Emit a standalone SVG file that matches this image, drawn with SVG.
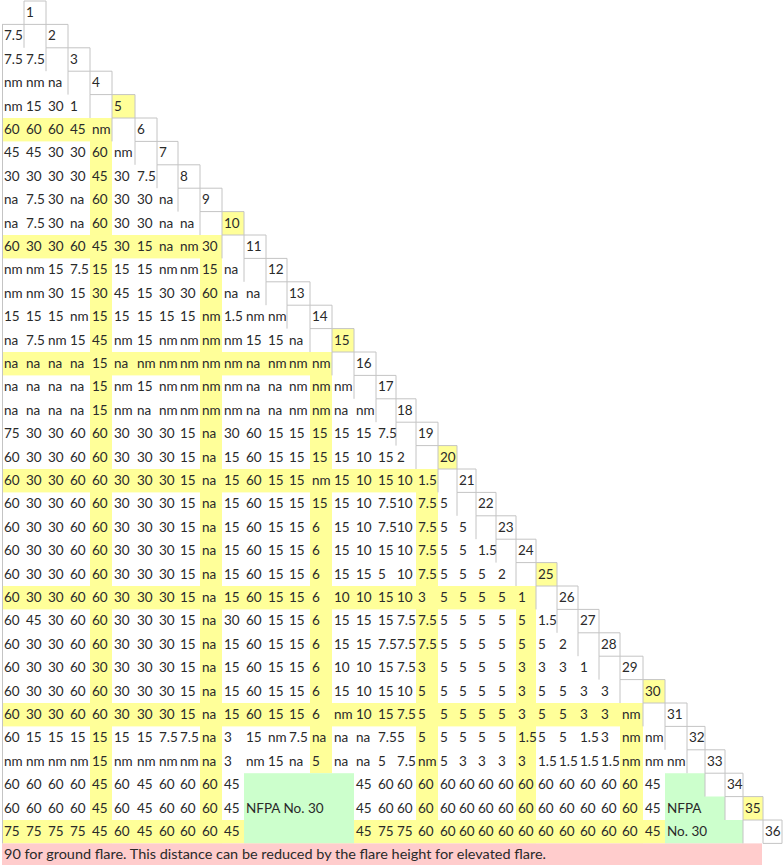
<svg xmlns="http://www.w3.org/2000/svg" width="783" height="865" viewBox="0 0 783 865">
<style>
.t{font-family:Lato,"Liberation Sans",sans-serif;font-size:13.5px;fill:#2a2a2a}
.y{fill:#ffff99}
.g{fill:#ccffcc}
.p{fill:#ffcccc}
.grid{fill:none;stroke:#c4c4c4;stroke-width:1}
</style>
<rect width="783" height="865" fill="#ffffff"/>
<g id="highlights">
<rect class="y" x="2" y="118" width="110" height="23.4"/>
<rect class="y" x="2" y="235" width="220" height="23.4"/>
<rect class="y" x="2" y="352" width="330" height="23.4"/>
<rect class="y" x="2" y="469" width="436" height="23.4"/>
<rect class="y" x="2" y="586" width="534" height="23.4"/>
<rect class="y" x="2" y="703" width="641" height="23.4"/>
<rect class="y" x="2" y="820" width="663" height="23.4"/>
<rect class="y" x="90" y="118" width="22" height="725.4"/>
<rect class="y" x="200" y="235" width="22" height="608.4"/>
<rect class="y" x="310" y="352" width="22" height="421.2"/>
<rect class="y" x="416" y="469" width="22" height="374.4"/>
<rect class="y" x="516" y="586" width="20" height="257.4"/>
<rect class="y" x="620" y="703" width="23" height="140.4"/>
<rect class="y" x="112" y="94.6" width="23" height="23.4"/>
<rect class="y" x="222" y="211.6" width="22" height="23.4"/>
<rect class="y" x="332" y="328.6" width="22" height="23.4"/>
<rect class="y" x="438" y="445.6" width="19" height="23.4"/>
<rect class="y" x="536" y="562.6" width="21" height="23.4"/>
<rect class="y" x="643" y="679.6" width="22" height="23.4"/>
<rect class="y" x="743" y="796.6" width="20" height="23.4"/>
<rect class="g" x="244" y="773.2" width="110" height="70.2"/>
<path class="g" d="M665 773.2H705V796.6H725V820H743V843.4H665Z"/>
<rect class="p" x="2" y="843.4" width="760" height="21.6"/>
</g>
<g id="grid">
<path class="grid" d="M2.5 24.4V843.4M2 24.4H24
M24 1H46V24.4H24ZM24 24.4V47.8
M46 24.4H68V47.8H46ZM46 47.8V71.2
M68 47.8H90V71.2H68ZM68 71.2V94.6
M90 71.2H112V94.6H90ZM90 94.6V118
M112 94.6H135V118H112ZM112 118V141.4
M135 118H157V141.4H135ZM135 141.4V164.8
M157 141.4H178V164.8H157ZM157 164.8V188.2
M178 164.8H200V188.2H178ZM178 188.2V211.6
M200 188.2H222V211.6H200ZM200 211.6V235
M222 211.6H244V235H222ZM222 235V258.4
M244 235H266V258.4H244ZM244 258.4V281.8
M266 258.4H287V281.8H266ZM266 281.8V305.2
M287 281.8H310V305.2H287ZM287 305.2V328.6
M310 305.2H332V328.6H310ZM310 328.6V352
M332 328.6H354V352H332ZM332 352V375.4
M354 352H376V375.4H354ZM354 375.4V398.8
M376 375.4H396V398.8H376ZM376 398.8V422.2
M396 398.8H416V422.2H396ZM396 422.2V445.6
M416 422.2H438V445.6H416ZM416 445.6V469
M438 445.6H457V469H438ZM438 469V492.4
M457 469H476V492.4H457ZM457 492.4V515.8
M476 492.4H496V515.8H476ZM476 515.8V539.2
M496 515.8H516V539.2H496ZM496 539.2V562.6
M516 539.2H536V562.6H516ZM516 562.6V586
M536 562.6H557V586H536ZM536 586V609.4
M557 586H578V609.4H557ZM557 609.4V632.8
M578 609.4H599V632.8H578ZM578 632.8V656.2
M599 632.8H620V656.2H599ZM599 656.2V679.6
M620 656.2H643V679.6H620ZM620 679.6V703
M643 679.6H665V703H643ZM643 703V726.4
M665 703H687V726.4H665ZM665 726.4V749.8
M687 726.4H705V749.8H687ZM687 749.8V773.2
M705 749.8H725V773.2H705ZM705 773.2V796.6
M725 773.2H743V796.6H725ZM725 796.6V820
M743 796.6H763V820H743ZM743 820V843.4
M763 820H782V843.4H763Z"/>
</g>
<g id="row-1"><text class="t" y="17"><tspan x="26">1</tspan></text></g>
<g id="row-2"><text class="t" y="40.4"><tspan x="4">7.5</tspan><tspan x="48">2</tspan></text></g>
<g id="row-3"><text class="t" y="63.8"><tspan x="4">7.5</tspan><tspan x="26">7.5</tspan><tspan x="70">3</tspan></text></g>
<g id="row-4"><text class="t" y="87.2"><tspan x="4">nm</tspan><tspan x="26">nm</tspan><tspan x="48">na</tspan><tspan x="92">4</tspan></text></g>
<g id="row-5"><text class="t" y="110.6"><tspan x="4">nm</tspan><tspan x="26">15</tspan><tspan x="48">30</tspan><tspan x="70">1</tspan><tspan x="114">5</tspan></text></g>
<g id="row-6"><text class="t" y="134"><tspan x="4">60</tspan><tspan x="26">60</tspan><tspan x="48">60</tspan><tspan x="70">45</tspan><tspan x="92">nm</tspan><tspan x="137">6</tspan></text></g>
<g id="row-7"><text class="t" y="157.4"><tspan x="4">45</tspan><tspan x="26">45</tspan><tspan x="48">30</tspan><tspan x="70">30</tspan><tspan x="92">60</tspan><tspan x="114">nm</tspan><tspan x="159">7</tspan></text></g>
<g id="row-8"><text class="t" y="180.8"><tspan x="4">30</tspan><tspan x="26">30</tspan><tspan x="48">30</tspan><tspan x="70">30</tspan><tspan x="92">45</tspan><tspan x="114">30</tspan><tspan x="137">7.5</tspan><tspan x="180">8</tspan></text></g>
<g id="row-9"><text class="t" y="204.2"><tspan x="4">na</tspan><tspan x="26">7.5</tspan><tspan x="48">30</tspan><tspan x="70">na</tspan><tspan x="92">60</tspan><tspan x="114">30</tspan><tspan x="137">30</tspan><tspan x="159">na</tspan><tspan x="202">9</tspan></text></g>
<g id="row-10"><text class="t" y="227.6"><tspan x="4">na</tspan><tspan x="26">7.5</tspan><tspan x="48">30</tspan><tspan x="70">na</tspan><tspan x="92">60</tspan><tspan x="114">30</tspan><tspan x="137">30</tspan><tspan x="159">na</tspan><tspan x="180">na</tspan><tspan x="224">10</tspan></text></g>
<g id="row-11"><text class="t" y="251"><tspan x="4">60</tspan><tspan x="26">30</tspan><tspan x="48">30</tspan><tspan x="70">60</tspan><tspan x="92">45</tspan><tspan x="114">30</tspan><tspan x="137">15</tspan><tspan x="159">na</tspan><tspan x="180">nm</tspan><tspan x="202">30</tspan><tspan x="246">11</tspan></text></g>
<g id="row-12"><text class="t" y="274.4"><tspan x="4">nm</tspan><tspan x="26">nm</tspan><tspan x="48">15</tspan><tspan x="70">7.5</tspan><tspan x="92">15</tspan><tspan x="114">15</tspan><tspan x="137">15</tspan><tspan x="159">nm</tspan><tspan x="180">nm</tspan><tspan x="202">15</tspan><tspan x="224">na</tspan><tspan x="268">12</tspan></text></g>
<g id="row-13"><text class="t" y="297.8"><tspan x="4">nm</tspan><tspan x="26">nm</tspan><tspan x="48">30</tspan><tspan x="70">15</tspan><tspan x="92">30</tspan><tspan x="114">45</tspan><tspan x="137">15</tspan><tspan x="159">30</tspan><tspan x="180">30</tspan><tspan x="202">60</tspan><tspan x="224">na</tspan><tspan x="246">na</tspan><tspan x="289">13</tspan></text></g>
<g id="row-14"><text class="t" y="321.2"><tspan x="4">15</tspan><tspan x="26">15</tspan><tspan x="48">15</tspan><tspan x="70">nm</tspan><tspan x="92">15</tspan><tspan x="114">15</tspan><tspan x="137">15</tspan><tspan x="159">15</tspan><tspan x="180">15</tspan><tspan x="202">nm</tspan><tspan x="224">1.5</tspan><tspan x="246">nm</tspan><tspan x="268">nm</tspan><tspan x="312">14</tspan></text></g>
<g id="row-15"><text class="t" y="344.6"><tspan x="4">na</tspan><tspan x="26">7.5</tspan><tspan x="48">nm</tspan><tspan x="70">15</tspan><tspan x="92">45</tspan><tspan x="114">nm</tspan><tspan x="137">15</tspan><tspan x="159">nm</tspan><tspan x="180">nm</tspan><tspan x="202">nm</tspan><tspan x="224">nm</tspan><tspan x="246">15</tspan><tspan x="268">15</tspan><tspan x="289">na</tspan><tspan x="334">15</tspan></text></g>
<g id="row-16"><text class="t" y="368"><tspan x="4">na</tspan><tspan x="26">na</tspan><tspan x="48">na</tspan><tspan x="70">na</tspan><tspan x="92">15</tspan><tspan x="114">na</tspan><tspan x="137">nm</tspan><tspan x="159">nm</tspan><tspan x="180">nm</tspan><tspan x="202">nm</tspan><tspan x="224">nm</tspan><tspan x="246">na</tspan><tspan x="268">nm</tspan><tspan x="289">nm</tspan><tspan x="312">nm</tspan><tspan x="356">16</tspan></text></g>
<g id="row-17"><text class="t" y="391.4"><tspan x="4">na</tspan><tspan x="26">na</tspan><tspan x="48">na</tspan><tspan x="70">na</tspan><tspan x="92">15</tspan><tspan x="114">nm</tspan><tspan x="137">15</tspan><tspan x="159">nm</tspan><tspan x="180">nm</tspan><tspan x="202">nm</tspan><tspan x="224">nm</tspan><tspan x="246">na</tspan><tspan x="268">na</tspan><tspan x="289">nm</tspan><tspan x="312">nm</tspan><tspan x="334">nm</tspan><tspan x="378">17</tspan></text></g>
<g id="row-18"><text class="t" y="414.8"><tspan x="4">na</tspan><tspan x="26">na</tspan><tspan x="48">na</tspan><tspan x="70">na</tspan><tspan x="92">15</tspan><tspan x="114">nm</tspan><tspan x="137">na</tspan><tspan x="159">nm</tspan><tspan x="180">nm</tspan><tspan x="202">nm</tspan><tspan x="224">nm</tspan><tspan x="246">na</tspan><tspan x="268">na</tspan><tspan x="289">nm</tspan><tspan x="312">nm</tspan><tspan x="334">na</tspan><tspan x="356">nm</tspan><tspan x="397">18</tspan></text></g>
<g id="row-19"><text class="t" y="438.2"><tspan x="4">75</tspan><tspan x="26">30</tspan><tspan x="48">30</tspan><tspan x="70">60</tspan><tspan x="92">60</tspan><tspan x="114">30</tspan><tspan x="137">30</tspan><tspan x="159">30</tspan><tspan x="180">15</tspan><tspan x="202">na</tspan><tspan x="224">30</tspan><tspan x="246">60</tspan><tspan x="268">15</tspan><tspan x="289">15</tspan><tspan x="312">15</tspan><tspan x="334">15</tspan><tspan x="356">15</tspan><tspan x="378">7.5</tspan><tspan x="418">19</tspan></text></g>
<g id="row-20"><text class="t" y="461.6"><tspan x="4">60</tspan><tspan x="26">30</tspan><tspan x="48">30</tspan><tspan x="70">60</tspan><tspan x="92">60</tspan><tspan x="114">30</tspan><tspan x="137">30</tspan><tspan x="159">30</tspan><tspan x="180">15</tspan><tspan x="202">na</tspan><tspan x="224">15</tspan><tspan x="246">60</tspan><tspan x="268">15</tspan><tspan x="289">15</tspan><tspan x="312">15</tspan><tspan x="334">15</tspan><tspan x="356">10</tspan><tspan x="378">15</tspan><tspan x="397">2</tspan><tspan x="440">20</tspan></text></g>
<g id="row-21"><text class="t" y="485"><tspan x="4">60</tspan><tspan x="26">30</tspan><tspan x="48">30</tspan><tspan x="70">60</tspan><tspan x="92">60</tspan><tspan x="114">30</tspan><tspan x="137">30</tspan><tspan x="159">30</tspan><tspan x="180">15</tspan><tspan x="202">na</tspan><tspan x="224">15</tspan><tspan x="246">60</tspan><tspan x="268">15</tspan><tspan x="289">15</tspan><tspan x="312">nm</tspan><tspan x="334">15</tspan><tspan x="356">10</tspan><tspan x="378">15</tspan><tspan x="397">10</tspan><tspan x="418">1.5</tspan><tspan x="459">21</tspan></text></g>
<g id="row-22"><text class="t" y="508.4"><tspan x="4">60</tspan><tspan x="26">30</tspan><tspan x="48">30</tspan><tspan x="70">60</tspan><tspan x="92">60</tspan><tspan x="114">30</tspan><tspan x="137">30</tspan><tspan x="159">30</tspan><tspan x="180">15</tspan><tspan x="202">na</tspan><tspan x="224">15</tspan><tspan x="246">60</tspan><tspan x="268">15</tspan><tspan x="289">15</tspan><tspan x="312">15</tspan><tspan x="334">15</tspan><tspan x="356">10</tspan><tspan x="378">7.5</tspan><tspan x="397">10</tspan><tspan x="418">7.5</tspan><tspan x="440">5</tspan><tspan x="478">22</tspan></text></g>
<g id="row-23"><text class="t" y="531.8"><tspan x="4">60</tspan><tspan x="26">30</tspan><tspan x="48">30</tspan><tspan x="70">60</tspan><tspan x="92">60</tspan><tspan x="114">30</tspan><tspan x="137">30</tspan><tspan x="159">30</tspan><tspan x="180">15</tspan><tspan x="202">na</tspan><tspan x="224">15</tspan><tspan x="246">60</tspan><tspan x="268">15</tspan><tspan x="289">15</tspan><tspan x="312">6</tspan><tspan x="334">15</tspan><tspan x="356">10</tspan><tspan x="378">7.5</tspan><tspan x="397">10</tspan><tspan x="418">7.5</tspan><tspan x="440">5</tspan><tspan x="459">5</tspan><tspan x="498">23</tspan></text></g>
<g id="row-24"><text class="t" y="555.2"><tspan x="4">60</tspan><tspan x="26">30</tspan><tspan x="48">30</tspan><tspan x="70">60</tspan><tspan x="92">60</tspan><tspan x="114">30</tspan><tspan x="137">30</tspan><tspan x="159">30</tspan><tspan x="180">15</tspan><tspan x="202">na</tspan><tspan x="224">15</tspan><tspan x="246">60</tspan><tspan x="268">15</tspan><tspan x="289">15</tspan><tspan x="312">6</tspan><tspan x="334">15</tspan><tspan x="356">10</tspan><tspan x="378">15</tspan><tspan x="397">10</tspan><tspan x="418">7.5</tspan><tspan x="440">5</tspan><tspan x="459">5</tspan><tspan x="478">1.5</tspan><tspan x="518">24</tspan></text></g>
<g id="row-25"><text class="t" y="578.6"><tspan x="4">60</tspan><tspan x="26">30</tspan><tspan x="48">30</tspan><tspan x="70">60</tspan><tspan x="92">60</tspan><tspan x="114">30</tspan><tspan x="137">30</tspan><tspan x="159">30</tspan><tspan x="180">15</tspan><tspan x="202">na</tspan><tspan x="224">15</tspan><tspan x="246">60</tspan><tspan x="268">15</tspan><tspan x="289">15</tspan><tspan x="312">6</tspan><tspan x="334">15</tspan><tspan x="356">15</tspan><tspan x="378">5</tspan><tspan x="397">10</tspan><tspan x="418">7.5</tspan><tspan x="440">5</tspan><tspan x="459">5</tspan><tspan x="478">5</tspan><tspan x="498">2</tspan><tspan x="538">25</tspan></text></g>
<g id="row-26"><text class="t" y="602"><tspan x="4">60</tspan><tspan x="26">30</tspan><tspan x="48">30</tspan><tspan x="70">60</tspan><tspan x="92">60</tspan><tspan x="114">30</tspan><tspan x="137">30</tspan><tspan x="159">30</tspan><tspan x="180">15</tspan><tspan x="202">na</tspan><tspan x="224">15</tspan><tspan x="246">60</tspan><tspan x="268">15</tspan><tspan x="289">15</tspan><tspan x="312">6</tspan><tspan x="334">10</tspan><tspan x="356">10</tspan><tspan x="378">15</tspan><tspan x="397">10</tspan><tspan x="418">3</tspan><tspan x="440">5</tspan><tspan x="459">5</tspan><tspan x="478">5</tspan><tspan x="498">5</tspan><tspan x="518">1</tspan><tspan x="559">26</tspan></text></g>
<g id="row-27"><text class="t" y="625.4"><tspan x="4">60</tspan><tspan x="26">45</tspan><tspan x="48">30</tspan><tspan x="70">60</tspan><tspan x="92">60</tspan><tspan x="114">30</tspan><tspan x="137">30</tspan><tspan x="159">30</tspan><tspan x="180">15</tspan><tspan x="202">na</tspan><tspan x="224">30</tspan><tspan x="246">60</tspan><tspan x="268">15</tspan><tspan x="289">15</tspan><tspan x="312">6</tspan><tspan x="334">15</tspan><tspan x="356">15</tspan><tspan x="378">15</tspan><tspan x="397">7.5</tspan><tspan x="418">7.5</tspan><tspan x="440">5</tspan><tspan x="459">5</tspan><tspan x="478">5</tspan><tspan x="498">5</tspan><tspan x="518">5</tspan><tspan x="538">1.5</tspan><tspan x="580">27</tspan></text></g>
<g id="row-28"><text class="t" y="648.8"><tspan x="4">60</tspan><tspan x="26">30</tspan><tspan x="48">30</tspan><tspan x="70">60</tspan><tspan x="92">60</tspan><tspan x="114">30</tspan><tspan x="137">30</tspan><tspan x="159">30</tspan><tspan x="180">15</tspan><tspan x="202">na</tspan><tspan x="224">15</tspan><tspan x="246">60</tspan><tspan x="268">15</tspan><tspan x="289">15</tspan><tspan x="312">6</tspan><tspan x="334">15</tspan><tspan x="356">15</tspan><tspan x="378">7.5</tspan><tspan x="397">7.5</tspan><tspan x="418">7.5</tspan><tspan x="440">5</tspan><tspan x="459">5</tspan><tspan x="478">5</tspan><tspan x="498">5</tspan><tspan x="518">5</tspan><tspan x="538">5</tspan><tspan x="559">2</tspan><tspan x="601">28</tspan></text></g>
<g id="row-29"><text class="t" y="672.2"><tspan x="4">60</tspan><tspan x="26">30</tspan><tspan x="48">30</tspan><tspan x="70">60</tspan><tspan x="92">30</tspan><tspan x="114">30</tspan><tspan x="137">30</tspan><tspan x="159">30</tspan><tspan x="180">15</tspan><tspan x="202">na</tspan><tspan x="224">15</tspan><tspan x="246">60</tspan><tspan x="268">15</tspan><tspan x="289">15</tspan><tspan x="312">6</tspan><tspan x="334">10</tspan><tspan x="356">10</tspan><tspan x="378">15</tspan><tspan x="397">7.5</tspan><tspan x="418">3</tspan><tspan x="440">5</tspan><tspan x="459">5</tspan><tspan x="478">5</tspan><tspan x="498">5</tspan><tspan x="518">3</tspan><tspan x="538">3</tspan><tspan x="559">3</tspan><tspan x="580">1</tspan><tspan x="622">29</tspan></text></g>
<g id="row-30"><text class="t" y="695.6"><tspan x="4">60</tspan><tspan x="26">30</tspan><tspan x="48">30</tspan><tspan x="70">60</tspan><tspan x="92">60</tspan><tspan x="114">30</tspan><tspan x="137">30</tspan><tspan x="159">30</tspan><tspan x="180">15</tspan><tspan x="202">na</tspan><tspan x="224">15</tspan><tspan x="246">60</tspan><tspan x="268">15</tspan><tspan x="289">15</tspan><tspan x="312">6</tspan><tspan x="334">15</tspan><tspan x="356">10</tspan><tspan x="378">15</tspan><tspan x="397">10</tspan><tspan x="418">5</tspan><tspan x="440">5</tspan><tspan x="459">5</tspan><tspan x="478">5</tspan><tspan x="498">5</tspan><tspan x="518">3</tspan><tspan x="538">5</tspan><tspan x="559">5</tspan><tspan x="580">3</tspan><tspan x="601">3</tspan><tspan x="645">30</tspan></text></g>
<g id="row-31"><text class="t" y="719"><tspan x="4">60</tspan><tspan x="26">30</tspan><tspan x="48">30</tspan><tspan x="70">60</tspan><tspan x="92">60</tspan><tspan x="114">30</tspan><tspan x="137">30</tspan><tspan x="159">30</tspan><tspan x="180">15</tspan><tspan x="202">na</tspan><tspan x="224">15</tspan><tspan x="246">60</tspan><tspan x="268">15</tspan><tspan x="289">15</tspan><tspan x="312">6</tspan><tspan x="334">nm</tspan><tspan x="356">10</tspan><tspan x="378">15</tspan><tspan x="397">7.5</tspan><tspan x="418">5</tspan><tspan x="440">5</tspan><tspan x="459">5</tspan><tspan x="478">5</tspan><tspan x="498">5</tspan><tspan x="518">3</tspan><tspan x="538">5</tspan><tspan x="559">5</tspan><tspan x="580">3</tspan><tspan x="601">3</tspan><tspan x="622">nm</tspan><tspan x="667">31</tspan></text></g>
<g id="row-32"><text class="t" y="742.4"><tspan x="4">60</tspan><tspan x="26">15</tspan><tspan x="48">15</tspan><tspan x="70">15</tspan><tspan x="92">15</tspan><tspan x="114">15</tspan><tspan x="137">15</tspan><tspan x="159">7.5</tspan><tspan x="180">7.5</tspan><tspan x="202">na</tspan><tspan x="224">3</tspan><tspan x="246">15</tspan><tspan x="268">nm</tspan><tspan x="289">7.5</tspan><tspan x="312">na</tspan><tspan x="334">na</tspan><tspan x="356">na</tspan><tspan x="378">7.5</tspan><tspan x="397">5</tspan><tspan x="418">5</tspan><tspan x="440">5</tspan><tspan x="459">5</tspan><tspan x="478">5</tspan><tspan x="498">5</tspan><tspan x="518">1.5</tspan><tspan x="538">5</tspan><tspan x="559">5</tspan><tspan x="580">1.5</tspan><tspan x="601">3</tspan><tspan x="622">nm</tspan><tspan x="645">nm</tspan><tspan x="689">32</tspan></text></g>
<g id="row-33"><text class="t" y="765.8"><tspan x="4">nm</tspan><tspan x="26">nm</tspan><tspan x="48">nm</tspan><tspan x="70">nm</tspan><tspan x="92">15</tspan><tspan x="114">nm</tspan><tspan x="137">nm</tspan><tspan x="159">nm</tspan><tspan x="180">nm</tspan><tspan x="202">na</tspan><tspan x="224">3</tspan><tspan x="246">nm</tspan><tspan x="268">15</tspan><tspan x="289">na</tspan><tspan x="312">5</tspan><tspan x="334">na</tspan><tspan x="356">na</tspan><tspan x="378">5</tspan><tspan x="397">7.5</tspan><tspan x="418">nm</tspan><tspan x="440">5</tspan><tspan x="459">3</tspan><tspan x="478">3</tspan><tspan x="498">3</tspan><tspan x="518">3</tspan><tspan x="538">1.5</tspan><tspan x="559">1.5</tspan><tspan x="580">1.5</tspan><tspan x="601">1.5</tspan><tspan x="622">nm</tspan><tspan x="645">nm</tspan><tspan x="667">nm</tspan><tspan x="707">33</tspan></text></g>
<g id="row-34"><text class="t" y="789.2"><tspan x="4">60</tspan><tspan x="26">60</tspan><tspan x="48">60</tspan><tspan x="70">60</tspan><tspan x="92">45</tspan><tspan x="114">60</tspan><tspan x="137">45</tspan><tspan x="159">60</tspan><tspan x="180">60</tspan><tspan x="202">60</tspan><tspan x="224">45</tspan><tspan x="356">45</tspan><tspan x="378">60</tspan><tspan x="397">60</tspan><tspan x="418">60</tspan><tspan x="440">60</tspan><tspan x="459">60</tspan><tspan x="478">60</tspan><tspan x="498">60</tspan><tspan x="518">60</tspan><tspan x="538">60</tspan><tspan x="559">60</tspan><tspan x="580">60</tspan><tspan x="601">60</tspan><tspan x="622">60</tspan><tspan x="645">45</tspan><tspan x="727">34</tspan></text></g>
<g id="row-35"><text class="t" y="812.6"><tspan x="4">60</tspan><tspan x="26">60</tspan><tspan x="48">60</tspan><tspan x="70">60</tspan><tspan x="92">45</tspan><tspan x="114">60</tspan><tspan x="137">45</tspan><tspan x="159">60</tspan><tspan x="180">60</tspan><tspan x="202">60</tspan><tspan x="224">45</tspan><tspan x="246">NFPA No. 30</tspan><tspan x="356">45</tspan><tspan x="378">60</tspan><tspan x="397">60</tspan><tspan x="418">60</tspan><tspan x="440">60</tspan><tspan x="459">60</tspan><tspan x="478">60</tspan><tspan x="498">60</tspan><tspan x="518">60</tspan><tspan x="538">60</tspan><tspan x="559">60</tspan><tspan x="580">60</tspan><tspan x="601">60</tspan><tspan x="622">60</tspan><tspan x="645">45</tspan><tspan x="667">NFPA</tspan><tspan x="745">35</tspan></text></g>
<g id="row-36"><text class="t" y="836"><tspan x="4">75</tspan><tspan x="26">75</tspan><tspan x="48">75</tspan><tspan x="70">75</tspan><tspan x="92">45</tspan><tspan x="114">60</tspan><tspan x="137">45</tspan><tspan x="159">60</tspan><tspan x="180">60</tspan><tspan x="202">60</tspan><tspan x="224">45</tspan><tspan x="356">45</tspan><tspan x="378">75</tspan><tspan x="397">75</tspan><tspan x="418">60</tspan><tspan x="440">60</tspan><tspan x="459">60</tspan><tspan x="478">60</tspan><tspan x="498">60</tspan><tspan x="518">60</tspan><tspan x="538">60</tspan><tspan x="559">60</tspan><tspan x="580">60</tspan><tspan x="601">60</tspan><tspan x="622">60</tspan><tspan x="645">45</tspan><tspan x="667">No. 30</tspan><tspan x="765">36</tspan></text></g>
<g id="footer"><text class="t" x="4" y="859.4" textLength="542" lengthAdjust="spacingAndGlyphs">90 for ground flare. This distance can be reduced by the flare height for elevated flare.</text></g>
</svg>
